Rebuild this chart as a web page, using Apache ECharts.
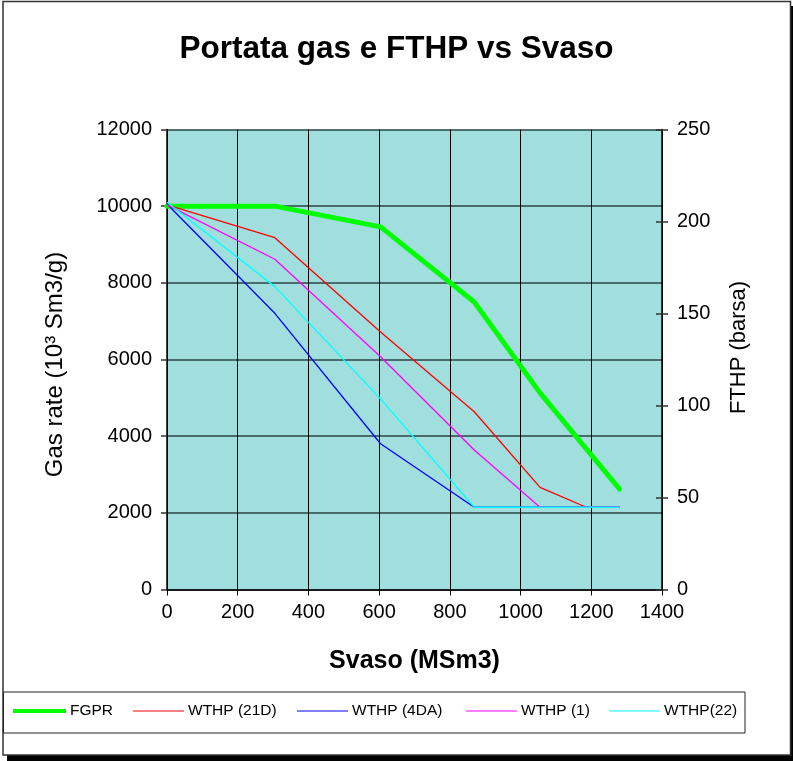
<!DOCTYPE html>
<html>
<head>
<meta charset="utf-8">
<script src="https://cdn.jsdelivr.net/npm/echarts@6/dist/echarts.min.js"></script>
<style>
  html, body { margin: 0; padding: 0; background: #ffffff; }
  #chart { width: 793px; height: 761px; }
</style>
</head>
<body>
<div id="chart"></div>
<script>
// Svaso (MSm3) break points and values for each curve
const fgprSvaso = [0, 305, 604, 869, 1055, 1280];
const fgprRate  = [10000, 10000, 9460, 7500, 5130, 2620];   // 10^3 Sm3/g

const wthp21dSvaso = [0, 305, 604, 869, 1055, 1186, 1280];
const wthp21d      = [209, 191.2, 140, 96.6, 55.5, 44.7, 44.7]; // barsa

const wthp4daSvaso = [0, 305, 604, 869, 1280];
const wthp4da      = [209.5, 150.1, 79.2, 44.7, 44.7];

const wthp1Svaso = [0, 305, 604, 869, 1055, 1280];
const wthp1      = [209, 179.5, 126.5, 75.8, 44.7, 44.7];

const wthp22Svaso = [0, 305, 604, 869, 1280];
const wthp22      = [210.5, 164.6, 103.6, 44.7, 44.7];

const seriesNames = ['FGPR', 'WTHP (21D)', 'WTHP (4DA)', 'WTHP (1)', 'WTHP(22)'];
const seriesColors = ['#00ff00', '#ff0000', '#0000ff', '#ff00ff', '#00ffff'];

const xTicks = { min: 0, max: 1400, interval: 200 };
const rateTicks = { min: 0, max: 12000, interval: 2000 };
const fthpTicks = { min: 0, max: 250, interval: 50 };

const pairs = (xs, ys) => xs.map((x, i) => [x, ys[i]]);
const plain = v => String(v);

const FONT = '"Liberation Sans", Arial, sans-serif';
const chart = echarts.init(document.getElementById('chart'), null, { renderer: 'canvas' });

// legend entries: one component per entry so each sits at its own spot
const legendLeft = [13, 133, 297, 466, 609];
const legends = seriesNames.map((name, i) => ({
  data: [{
    name: name,
    icon: 'rect',
    itemStyle: { color: seriesColors[i], borderWidth: 0 }
  }],
  left: legendLeft[i],
  top: 703,
  orient: 'horizontal',
  itemWidth: i === 0 ? 53 : 51,
  itemHeight: i === 0 ? 4 : 1,
  itemGap: 0,
  padding: 0,
  selectedMode: false,
  itemStyle: { color: seriesColors[i], borderWidth: 0 },
  lineStyle: { width: 0 },
  textStyle: { fontFamily: FONT, fontSize: 15.5, color: '#000', padding: [0, 0, 0, -1] }
}));

const thinLine = (name, idx, data) => ({
  name: name,
  type: 'line',
  yAxisIndex: 1,
  data: data,
  symbol: 'none',
  silent: true,
  itemStyle: { color: seriesColors[idx] },
  lineStyle: { color: seriesColors[idx], width: 1.3 }
});

chart.setOption({
  animation: false,
  backgroundColor: 'transparent',
  graphic: [
    // page frame with drop shadow
    { type: 'rect', z: -10, shape: { x: 7, y: 6, width: 800, height: 800 }, style: { fill: '#000' } },
    { type: 'rect', z: -9, shape: { x: 3, y: 1.5, width: 787.5, height: 753.5 },
      style: { fill: '#fff', stroke: '#333', lineWidth: 1.5 } },
    // legend frame
    { type: 'rect', z: -8, shape: { x: 3.5, y: 692, width: 741.5, height: 41 },
      style: { fill: '#fff', stroke: '#222', lineWidth: 1 } }
  ],
  title: {
    text: 'Portata gas e FTHP vs Svaso',
    left: 'center',
    top: 28,
    textStyle: { fontFamily: FONT, fontSize: 31.5, fontWeight: 'bold', color: '#000' }
  },
  legend: legends,
  grid: { left: 167, right: 131, top: 129.5, bottom: 171.5, show: true,
          backgroundColor: '#a1dfdf', borderColor: '#000', borderWidth: 0 },
  xAxis: {
    type: 'value',
    min: xTicks.min, max: xTicks.max, interval: xTicks.interval,
    name: 'Svaso (MSm3)',
    nameLocation: 'middle',
    nameGap: 59,
    nameTextStyle: { fontFamily: FONT, fontSize: 25, fontWeight: 'bold', color: '#000' },
    axisLine: { show: true, lineStyle: { color: '#000', width: 1.5 } },
    axisTick: { show: true, length: 6, lineStyle: { color: '#000', width: 1 } },
    axisLabel: { fontFamily: FONT, fontSize: 20, color: '#000', margin: 13, formatter: plain },
    splitLine: { show: true, lineStyle: { color: '#000', width: 1 } }
  },
  yAxis: [
    {
      type: 'value',
      position: 'left',
      min: rateTicks.min, max: rateTicks.max, interval: rateTicks.interval,
      name: 'Gas rate (10³ Sm3/g)',
      nameLocation: 'middle',
      nameGap: 100,
      nameTextStyle: { fontFamily: FONT, fontSize: 24, color: '#000', padding: [0, 10, 0, 0] },
      axisLine: { show: true, lineStyle: { color: '#000', width: 1.5 } },
      axisTick: { show: true, length: 6, lineStyle: { color: '#333', width: 1.5 } },
      axisLabel: { fontFamily: FONT, fontSize: 20, color: '#000', margin: 15, formatter: plain },
      splitLine: { show: true, lineStyle: { color: '#2e4444', width: 1.6 } }
    },
    {
      type: 'value',
      position: 'right',
      min: fthpTicks.min, max: fthpTicks.max, interval: fthpTicks.interval,
      name: 'FTHP (barsa)',
      nameLocation: 'middle',
      nameGap: 66,
      nameRotate: 90,
      nameTextStyle: { fontFamily: FONT, fontSize: 22, color: '#000', padding: [0, 0, 0, 24] },
      axisLine: { show: true, lineStyle: { color: '#000', width: 1.5 } },
      axisTick: { show: true, length: 6, lineStyle: { color: '#333', width: 1.5 } },
      axisLabel: { fontFamily: FONT, fontSize: 20, color: '#000', margin: 15, formatter: plain },
      splitLine: { show: false }
    },
    {
      // inner half of the crossing ticks on the FTHP axis
      type: 'value',
      position: 'right',
      min: fthpTicks.min, max: fthpTicks.max, interval: fthpTicks.interval,
      axisLine: { show: false },
      axisTick: { show: true, inside: true, length: 6, lineStyle: { color: '#333', width: 1.5 } },
      axisLabel: { show: false },
      splitLine: { show: false }
    }
  ],
  series: [
    {
      name: seriesNames[0],
      type: 'line',
      yAxisIndex: 0,
      data: pairs(fgprSvaso, fgprRate),
      symbol: 'none',
      silent: true,
      itemStyle: { color: seriesColors[0] },
      lineStyle: { color: seriesColors[0], width: 5, cap: 'round', join: 'round' }
    },
    thinLine(seriesNames[1], 1, pairs(wthp21dSvaso, wthp21d)),
    thinLine(seriesNames[2], 2, pairs(wthp4daSvaso, wthp4da)),
    thinLine(seriesNames[3], 3, pairs(wthp1Svaso, wthp1)),
    thinLine(seriesNames[4], 4, pairs(wthp22Svaso, wthp22))
  ]
});
</script>
</body>
</html>
